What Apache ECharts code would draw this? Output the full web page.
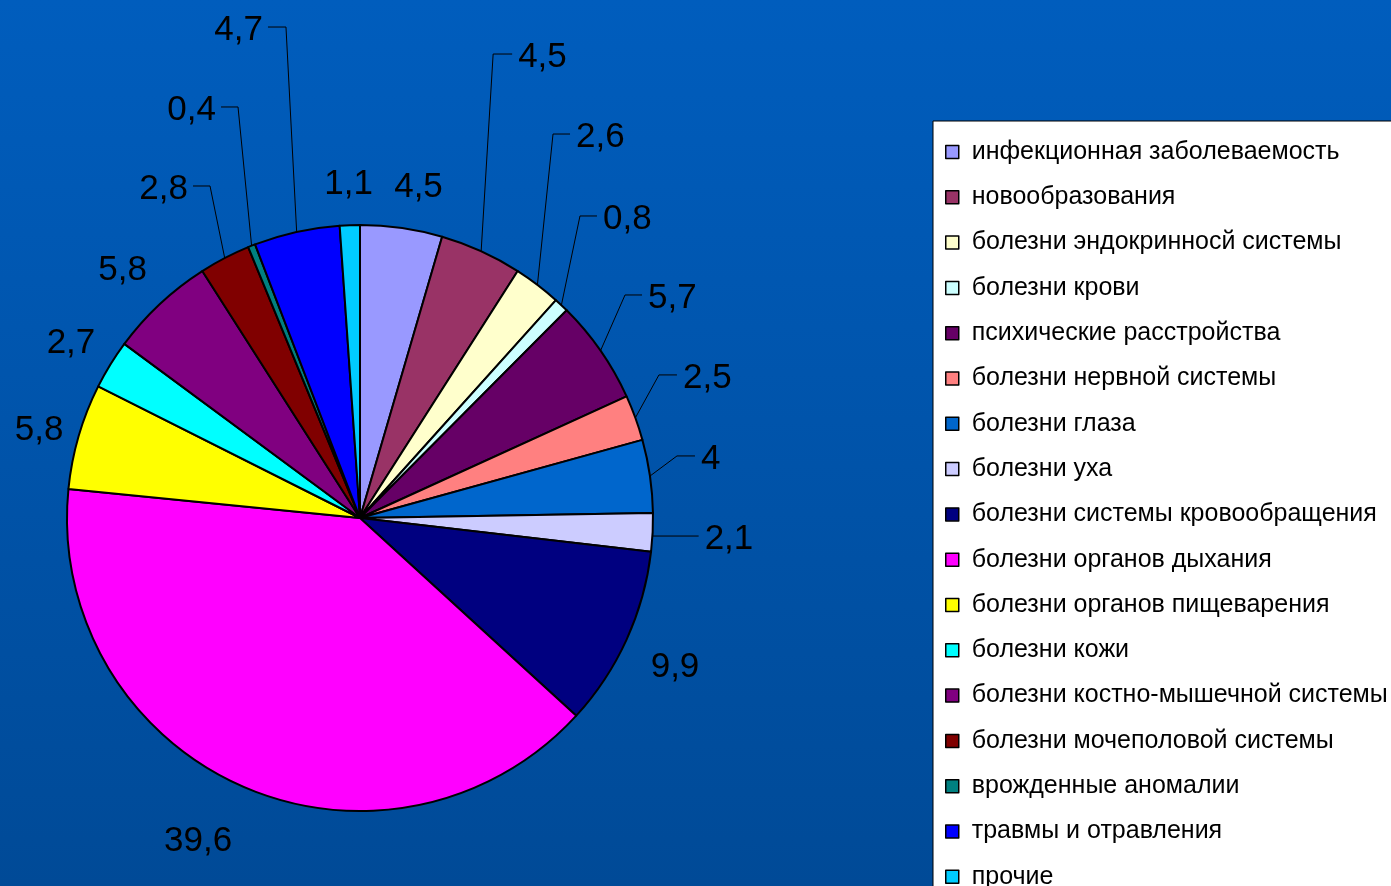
<!DOCTYPE html>
<html>
<head>
<meta charset="utf-8">
<script src="https://cdn.jsdelivr.net/npm/echarts@6/dist/echarts.min.js"></script>
<style>
html,body{margin:0;padding:0;overflow:hidden;}
#chart{width:1391px;height:886px;}
</style>
</head>
<body>
<div id="chart"></div>
<script>
const categories = [
  'инфекционная заболеваемость',
  'новообразования',
  'болезни эндокринносй системы',
  'болезни крови',
  'психические расстройства',
  'болезни нервной системы',
  'болезни глаза',
  'болезни уха',
  'болезни системы кровообращения',
  'болезни органов дыхания',
  'болезни органов пищеварения',
  'болезни кожи',
  'болезни костно-мышечной системы',
  'болезни мочеполовой системы',
  'врожденные аномалии',
  'травмы и отравления',
  'прочие'
];
const values = [4.5, 4.5, 2.6, 0.8, 5.7, 2.5, 4, 2.1, 9.9, 39.6, 5.8, 2.7, 5.8, 2.8, 0.4, 4.7, 1.1];
const colors = [
  '#9999FF', '#993366', '#FFFFCC', '#CCFFFF', '#660066', '#FF8080',
  '#0066CC', '#CCCCFF', '#000080', '#FF00FF', '#FFFF00', '#00FFFF',
  '#800080', '#800000', '#008080', '#0000FF', '#00CCFF'
];
// label placement, relative to the slice's outer edge point at its mid angle:
// [dx, dy, horizontal leader length (null = no leader, centred text)]
const labelPlacement = [
  [17, -43, null],
  [12, -197.2, 19],
  [15.6, -150.8, 17],
  [18.6, -89.2, 17],
  [24.5, -55.7, 17],
  [23.6, -42.9, 18],
  [27, -20.1, 18],
  [0, 3.7, 46],
  [48.4, 25.5, null],
  [-42.5, 53.4, null],
  [-39.6, -8.3, null],
  [-39.4, -23.6, null],
  [-37.4, -35.9, null],
  [-14.7, -72.1, 17],
  [-13.6, -138.8, 17],
  [-10.7, -204.9, 18],
  [-1.3, -43.2, null]
];

const chart = echarts.init(document.getElementById('chart'), null, {renderer: 'canvas'});
const option = {
  animation: false,
  backgroundColor: {
    type: 'linear', x: 0, y: 0, x2: 0, y2: 1,
    colorStops: [{offset: 0, color: '#005DBD'}, {offset: 1, color: '#004A97'}]
  },
  color: colors,
  legend: {
    orient: 'vertical',
    left: 933, top: 121, height: 800,
    backgroundColor: '#ffffff',
    borderColor: '#000000', borderWidth: 1,
    padding: [16, 60, 20, 12],
    itemWidth: 13, itemHeight: 13, itemGap: 15.3,
    icon: 'rect',
    itemStyle: {borderColor: '#000', borderWidth: 1.5},
    selectedMode: false,
    textStyle: {color: '#000', fontFamily: 'Liberation Sans, Arial, sans-serif', fontSize: 25, lineHeight: 25, padding: [5, 0, 0, 8]},
    data: categories
  },
  series: [{
    type: 'pie',
    center: [360, 518],
    radius: 293,
    startAngle: 90,
    clockwise: true,
    avoidLabelOverlap: false,
    emphasis: {disabled: true},
    itemStyle: {borderColor: '#000', borderWidth: 2},
    label: {
      show: true, position: 'outside', color: '#000',
      fontFamily: 'Liberation Sans, Arial, sans-serif', fontSize: 35,
      formatter: p => String(p.value).replace('.', ',')
    },
    labelLine: {show: true, length: 10, length2: 10, lineStyle: {color: '#000', width: 1}},
    labelLayout: function (p) {
      const pl = labelPlacement[p.dataIndex];
      const pts = p.labelLinePoints;
      if (!pts || !pl) return {};
      const p1 = pts[0];
      const qx = p1[0] + pl[0];
      const qy = p1[1] + pl[1];
      if (pl[2] == null) {
        return {x: qx, y: qy + 2, align: 'center', verticalAlign: 'middle', labelLinePoints: [p1, p1]};
      }
      const side = (pts[2][0] - pts[1][0]) >= 0 ? 1 : -1;
      const ex = qx + side * pl[2];
      return {
        x: ex + side * (side > 0 ? 6 : 5), y: qy + 3.5,
        align: side > 0 ? 'left' : 'right', verticalAlign: 'middle',
        labelLinePoints: [p1, [qx, qy], [ex, qy]]
      };
    },
    data: categories.map((n, i) => ({
      name: n, value: values[i],
      labelLine: labelPlacement[i][2] == null ? {lineStyle: {opacity: 0}} : {}
    }))
  }]
};
chart.setOption(option);
</script>
</body>
</html>
